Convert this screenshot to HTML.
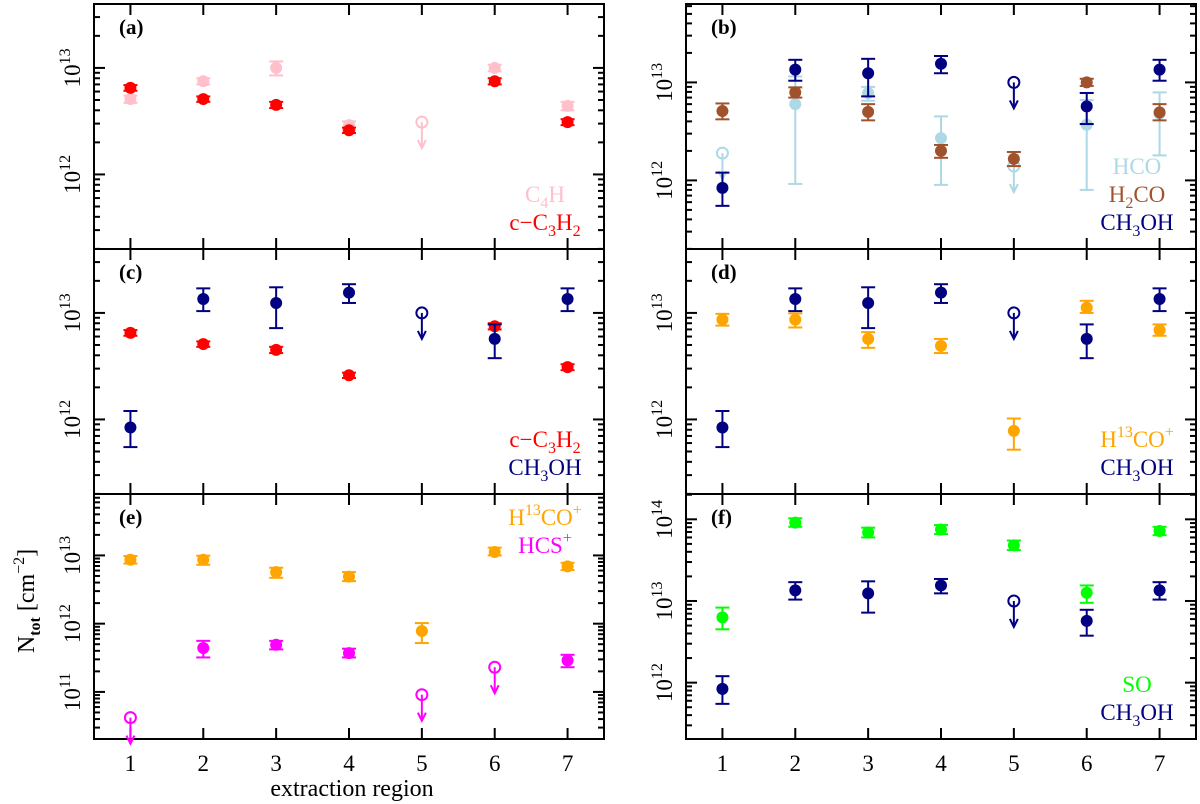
<!DOCTYPE html>
<html><head><meta charset="utf-8"><style>
html,body{margin:0;padding:0;background:#fff;}
svg{display:block;font-family:"Liberation Serif",serif;}
</style></head><body>
<svg id="fig" width="1200" height="804" viewBox="0 0 1200 804" xmlns="http://www.w3.org/2000/svg"></svg>
<script>
const regions=[1,2,3,4,5,6,7];
// c-C3H2
const c3h2Val=[6.5e12,5.1e12,4.5e12,2.6e12,null,7.5e12,3.1e12];
const c3h2Lo=[6.1e12,4.8e12,4.2e12,2.45e12,null,7.0e12,2.9e12];
const c3h2Hi=[6.9e12,5.4e12,4.8e12,2.75e12,null,8.0e12,3.3e12];
const c3h2UL=[null,null,null,null,null,null,null];
// C4H
const c4hVal=[5.1e12,7.5e12,1.0e13,2.9e12,null,1.0e13,4.4e12];
const c4hLo=[4.7e12,7.0e12,8.5e12,2.6e12,null,9.3e12,4.0e12];
const c4hHi=[5.5e12,8.0e12,1.15e13,3.15e12,null,1.07e13,4.8e12];
const c4hUL=[null,null,null,null,3.1e12,null,null];
// CH3OH
const ch3ohVal=[8.4e11,1.35e13,1.24e13,1.55e13,null,5.7e12,1.35e13];
const ch3ohLo=[5.5e11,1.04e13,7.2e12,1.24e13,null,3.76e12,1.04e13];
const ch3ohHi=[1.2e12,1.7e13,1.74e13,1.86e13,null,7.8e12,1.7e13];
const ch3ohUL=[null,null,null,null,1.0e13,null,null];
// HCO
const hcoVal=[null,6.0e12,7.8e12,2.7e12,null,3.7e12,4.8e12];
const hcoLo=[null,9.2e11,6.5e12,9.0e11,null,8.0e11,1.8e12];
const hcoHi=[null,1.15e13,9.0e12,4.5e12,null,6.6e12,7.9e12];
const hcoUL=[1.9e12,null,null,null,1.4e12,null,null];
// H2CO
const h2coVal=[5.1e12,7.9e12,5.0e12,2.0e12,1.66e12,1.0e13,4.95e12];
const h2coLo=[4.2e12,7.0e12,4.1e12,1.7e12,1.4e12,9.2e12,4.1e12];
const h2coHi=[6.1e12,8.9e12,6.0e12,2.3e12,1.95e12,1.09e13,6.0e12];
const h2coUL=[null,null,null,null,null,null,null];
// H13CO+
const h13coVal=[8.65e12,8.65e12,5.7e12,4.9e12,7.8e11,1.12e13,6.9e12];
const h13coLo=[7.6e12,7.3e12,4.7e12,4.2e12,5.2e11,1.0e13,6.1e12];
const h13coHi=[9.8e12,9.9e12,6.6e12,5.7e12,1.02e12,1.3e13,7.8e12];
const h13coUL=[null,null,null,null,null,null,null];
// HCS+
const hcsVal=[null,4.4e11,4.9e11,3.7e11,null,null,2.9e11];
const hcsLo=[null,3.2e11,4.2e11,3.2e11,null,null,2.3e11];
const hcsHi=[null,5.6e11,5.6e11,4.3e11,null,null,3.5e11];
const hcsUL=[4.2e10,null,null,null,9.1e10,2.3e11,null];
// SO
const soVal=[6.3e12,9.1e13,6.9e13,7.5e13,4.8e13,1.26e13,7.2e13];
const soLo=[4.5e12,8.1e13,6.0e13,6.6e13,4.2e13,9.5e12,6.4e13];
const soHi=[8.3e12,1.03e14,7.9e13,8.5e13,5.5e13,1.55e13,8.1e13];
const soUL=[null,null,null,null,null,null,null];
const xTickLabels=["1","2","3","4","5","6","7"];

const NS="http://www.w3.org/2000/svg";
const svg=document.getElementById('fig');
function mk(tag,attrs,parent){const e=document.createElementNS(NS,tag);for(const k in attrs)e.setAttribute(k,attrs[k]);(parent||svg).appendChild(e);return e;}

const C={c3h2:"#ff0000",c4h:"#ffc0cb",ch3oh:"#000080",hco:"#add8e6",h2co:"#a0522d",h13co:"#ffa500",hcs:"#ff00ff",so:"#00ff00"};
const S={
 c3h2:[c3h2Val,c3h2Lo,c3h2Hi,c3h2UL], c4h:[c4hVal,c4hLo,c4hHi,c4hUL], ch3oh:[ch3ohVal,ch3ohLo,ch3ohHi,ch3ohUL],
 hco:[hcoVal,hcoLo,hcoHi,hcoUL], h2co:[h2coVal,h2coLo,h2coHi,h2coUL], h13co:[h13coVal,h13coLo,h13coHi,h13coUL],
 hcs:[hcsVal,hcsLo,hcsHi,hcsUL], so:[soVal,soLo,soHi,soUL]};

const W=510,H=245;
const panels=[
 {id:"a",x0:94,y0:4,ymin:11.3,ymax:13.6,series:["c4h","c3h2"],legend:[["c4h","C","4","H"],["c3h2","c\u2212C","3","H","2"]],legTop:false,xlab:false},
 {id:"b",x0:686,y0:4,ymin:11.3,ymax:13.8,series:["hco","h2co","ch3oh"],legend:[["hco","HCO"],["h2co","H","2","CO"],["ch3oh","CH","3","OH"]],legTop:false,xlab:false},
 {id:"c",x0:94,y0:249,ymin:11.3,ymax:13.6,series:["c3h2","ch3oh"],legend:[["c3h2","c\u2212C","3","H","2"],["ch3oh","CH","3","OH"]],legTop:false,xlab:false},
 {id:"d",x0:686,y0:249,ymin:11.3,ymax:13.6,series:["h13co","ch3oh"],legend:[["h13co","sup"],["ch3oh","CH","3","OH"]],legTop:false,xlab:false},
 {id:"e",x0:94,y0:494,ymin:10.31,ymax:13.9,series:["h13co","hcs"],legend:[["h13co","sup"],["hcs","sup2"]],legTop:true,xlab:true},
 {id:"f",x0:686,y0:494,ymin:11.31,ymax:14.31,series:["so","ch3oh"],legend:[["so","SO"],["ch3oh","CH","3","OH"]],legTop:false,xlab:true}
];

panels.forEach(p=>{
 const g=mk('g',{});
 
 
 const xs=v=>p.x0+(v-0.5)*W/7;
 const ys=v=>p.y0+(p.ymax-Math.log10(v))/(p.ymax-p.ymin)*H;
 const frame=mk('rect',{x:p.x0,y:p.y0,width:W,height:H,fill:"none",stroke:"#000","stroke-width":2},g);
 
 
 // x ticks
 regions.forEach((r,i)=>{
  const x=xs(r);
  mk('line',{x1:x,x2:x,y1:p.y0+H,y2:p.y0+H-11,stroke:"#000","stroke-width":2},g);
  mk('line',{x1:x,x2:x,y1:p.y0,y2:p.y0+11,stroke:"#000","stroke-width":2},g);
  if(p.xlab){const t=mk('text',{x:x,y:771,"text-anchor":"middle","font-size":23},g);t.textContent=xTickLabels[i];
   
   }
 });
 // y ticks
 for(let d=Math.floor(p.ymin);d<=Math.ceil(p.ymax);d++){
  for(let k=1;k<=9;k++){
   const lv=d+Math.log10(k); if(lv<p.ymin||lv>p.ymax) continue;
   const y=ys(Math.pow(10,lv)); const L=k===1?11:6;
   mk('line',{x1:p.x0,x2:p.x0+L,y1:y,y2:y,stroke:"#000","stroke-width":2},g);
   mk('line',{x1:p.x0+W,x2:p.x0+W-L,y1:y,y2:y,stroke:"#000","stroke-width":2},g);
   if(k===1){
    const t=mk('text',{transform:`translate(${p.x0-14},${y}) rotate(-90)`,"text-anchor":"middle","font-size":23},g);
    
    
    t.appendChild(document.createTextNode("10"));
    const ts=mk('tspan',{dy:-10,"font-size":16},t);ts.textContent=String(d);
   }
  }
 }
 // panel label
 const pl=mk('text',{x:p.x0+25,y:p.y0+30,"font-size":21,"font-weight":"bold"},g);
 pl.textContent="("+p.id+")";
 
 
 // series
 p.series.forEach(key=>{
  const [val,lo,hi,ul]=S[key]; const col=C[key];
  const sg=mk('g',{},g);
  
  
  regions.forEach((r,i)=>{
   const x=xs(r);
   if(val[i]!=null){
    const y1=ys(hi[i]),y2=ys(lo[i]);
    mk('line',{x1:x,x2:x,y1:y1,y2:y2,stroke:col,"stroke-width":2},sg);
    mk('line',{x1:x-7,x2:x+7,y1:y1,y2:y1,stroke:col,"stroke-width":2},sg);
    mk('line',{x1:x-7,x2:x+7,y1:y2,y2:y2,stroke:col,"stroke-width":2},sg);
    const c=mk('circle',{cx:x,cy:ys(val[i]),r:6,fill:col},sg);
    
    
   }
   if(ul[i]!=null){
    const y=ys(ul[i]);
    const c=mk('circle',{cx:x,cy:y,r:5.5,fill:"none",stroke:col,"stroke-width":2},sg);
    
    
    mk('line',{x1:x,x2:x,y1:y,y2:y+26,stroke:col,"stroke-width":2},sg);
    mk('polyline',{points:`${x-4},${y+18} ${x},${y+26} ${x+4},${y+18}`,fill:"none",stroke:col,"stroke-width":2},sg);
   }
  });
 });
 // legend
 const cx=p.x0+451; const n=p.legend.length;
 p.legend.forEach((L,j)=>{
  const yb=p.legTop? p.y0+31+j*28 : p.y0+226-(n-1-j)*28;
  const t=mk('text',{x:cx,y:yb,"text-anchor":"middle","font-size":23,fill:C[L[0]]},g);
  
  
  if(L[1]==="sup"){
   t.appendChild(document.createTextNode("H"));
   const a=mk('tspan',{dy:-10,"font-size":16},t);a.textContent="13";
   const b=mk('tspan',{dy:10},t);b.textContent="CO";
   const c=mk('tspan',{dy:-10,"font-size":16},t);c.textContent="+";
  } else if(L[1]==="sup2"){
   t.appendChild(document.createTextNode("HCS"));
   const c=mk('tspan',{dy:-10,"font-size":16},t);c.textContent="+";
  } else {
   for(let q=1;q<L.length;q++){
    if(q%2===1){const s=mk('tspan',{dy:q===1?0:-6},t);s.textContent=L[q];}
    else{const s=mk('tspan',{dy:6,"font-size":16},t);s.textContent=L[q];}
   }
  }
 });
});
// axis titles
const xt=mk('text',{x:352,y:796,"text-anchor":"middle","font-size":24});
xt.textContent="extraction region";


const yt=mk('text',{transform:"translate(34,601) rotate(-90)","text-anchor":"middle","font-size":24});


yt.appendChild(document.createTextNode("N"));
const s1=mk('tspan',{dy:6,"font-size":16,"font-weight":"bold"},yt);s1.textContent="tot";
const s2=mk('tspan',{dy:-6},yt);s2.textContent="  [cm";
const s3=mk('tspan',{dy:-10,"font-size":16},yt);s3.textContent="\u22122";
const s4=mk('tspan',{dy:10},yt);s4.textContent="]";
</script>
</body></html>
